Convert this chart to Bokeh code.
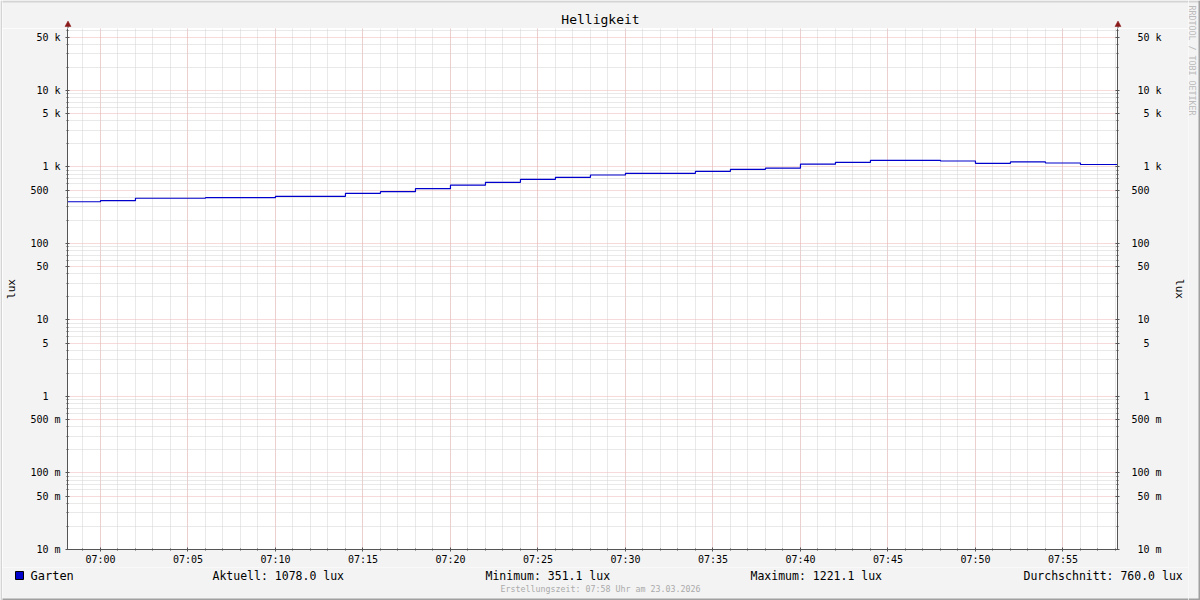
import numpy as np
from bokeh.plotting import figure
from bokeh.layouts import column, row
from bokeh.models import Range1d, FixedTicker, LogAxis, DatetimeTickFormatter, CustomJSTickFormatter
from bokeh.core.properties import value
from bokeh.embed import file_html
from bokeh.resources import INLINE

# ---------------- data ----------------
DATE = "2026-03-23"
step_times = ["06:58", "07:00", "07:02", "07:04", "07:06", "07:08", "07:10", "07:12",
              "07:14", "07:16", "07:18", "07:20", "07:22", "07:24", "07:26", "07:28",
              "07:30", "07:32", "07:34", "07:36", "07:38", "07:40", "07:42", "07:44",
              "07:46", "07:48", "07:50", "07:52", "07:54", "07:56", "07:58:07"]
garten_lux = [351.1, 363, 390, 390, 397, 397, 414, 414, 453, 476,
              520, 578, 631, 690, 733, 786, 827, 827, 878, 933,
              964, 1088, 1152, 1221.1, 1221.1, 1198, 1118, 1163, 1128, 1078,
              1078]
range_start = "06:58:07"
range_end = "07:58:07"
x_major_labels = ["07:00", "07:05", "07:10", "07:15", "07:20", "07:25",
                  "07:30", "07:35", "07:40", "07:45", "07:50", "07:55"]
y_major = [0.01, 0.05, 0.1, 0.5, 1, 5, 10, 50, 100, 500, 1000, 5000, 10000, 50000]
y_minor = [m * d for d in [0.01, 0.1, 1, 10, 100, 1000, 10000]
           for m in [2, 3, 4, 6, 7, 8, 9]]
y_min, y_max = 0.01, 64600

series_name = "Garten"
title_text = "Helligkeit"
unit_label = "lux"
stat_names = ["Aktuell", "Minimum", "Maximum", "Durchschnitt"]
stat_values = ["1078.0 lux", "351.1 lux", "1221.1 lux", "760.0 lux"]
footer_text = "Erstellungszeit: 07:58 Uhr am 23.03.2026"
watermark = "RRDTOOL / TOBI OETIKER"


def t(s):
    if len(s) == 5:
        s = s + ":00"
    return np.datetime64(f"{DATE}T{s}", "ms")


def ms(s):
    return int(t(s).astype(np.int64))


xs = np.array([t(s) for s in step_times])
x0, x1 = ms(range_start), ms(range_end)
x_major = [ms(s) for s in x_major_labels]
x_minor = list(range(ms("06:59"), x1, 60000))

# ---------------- styling / geometry (page pixels) ----------------
FONT = "DejaVu Sans Mono"
BG = "#f3f3f3"
AXIS_C = "#555555"
MAJ_GRID = "#eeb4b4"
MIN_GRID = "#d2d2d2"
ARROW_C = "#8b1a1a"
LINE_C = "#0000cc"
EDGE_LIGHT = "#d4d4d4"
EDGE_DARK = "#a0a0a0"

TOTAL_W, TOTAL_H = 1200, 600
LEFT_W = 2
STRIP_W = 12
COL_X = LEFT_W
MAIN_W = TOTAL_W - STRIP_W - LEFT_W
TOP_H = 28
MAIN_BOTTOM = 567
MAIN_H = MAIN_BOTTOM - TOP_H
BOT_H = TOTAL_H - MAIN_BOTTOM
FRAME_L, FRAME_R, FRAME_B = 67, 1117, 549


def pixfig(ox, oy, w, h):
    """Helper figure whose data coordinates are page pixels."""
    f = figure(width=w, height=h, output_backend="svg", toolbar_location=None,
               x_range=Range1d(ox, ox + w), y_range=Range1d(oy + h, oy),
               min_border=0, min_border_left=0, min_border_right=0,
               min_border_top=0, min_border_bottom=0,
               x_axis_location=None, y_axis_location=None,
               background_fill_color=BG, border_fill_color=BG,
               outline_line_color=None, frame_align=False)
    f.xgrid.visible = False
    f.ygrid.visible = False
    return f


# ---------------- left edge ----------------
ledge = pixfig(0, 0, LEFT_W, TOTAL_H)
ledge.segment(x0=[1], y0=[0], x1=[1], y1=[TOTAL_H], line_color=EDGE_LIGHT, line_width=2)

# ---------------- top strip: title + axis arrows ----------------
top = pixfig(COL_X, 0, MAIN_W, TOP_H)
top.text(x=[600], y=[19], text=[title_text], text_font=value(FONT),
         text_font_size=value("13px"), text_align="center", text_baseline="middle",
         text_color="#000000")
top.segment(x0=[0], y0=[1], x1=[TOTAL_W], y1=[1], line_color=EDGE_LIGHT, line_width=2)
for ax_x in [FRAME_L, FRAME_R]:
    top.segment(x0=[ax_x + 0.5], y0=[25], x1=[ax_x + 0.5], y1=[TOP_H], line_color=AXIS_C, line_width=1)
    top.patch(x=[ax_x + 0.5, ax_x - 2.5, ax_x + 3.5], y=[20.5, 26, 26],
              fill_color=ARROW_C, line_color=ARROW_C, line_width=0.5)

# ---------------- main chart ----------------
p = figure(width=MAIN_W, height=MAIN_H, output_backend="svg", toolbar_location=None,
           x_axis_type="datetime", y_axis_type="log",
           x_range=Range1d(x0, x1), y_range=Range1d(y_min, y_max),
           min_border_left=FRAME_L - COL_X, min_border_right=COL_X + MAIN_W - FRAME_R,
           min_border_top=0, min_border_bottom=MAIN_BOTTOM - FRAME_B,
           background_fill_color="white", border_fill_color=BG,
           outline_line_color=None, frame_align=False)

yticker = FixedTicker(ticks=y_major, minor_ticks=y_minor)
xticker = FixedTicker(ticks=x_major, minor_ticks=x_minor)

yfmt = CustomJSTickFormatter(code="""
const nb = '\\u00a0';
let num, unit;
if (tick >= 999) { num = Math.round(tick/1000); unit = 'k'; }
else if (tick >= 0.999) { num = Math.round(tick); unit = nb; }
else { num = Math.round(tick*1000); unit = 'm'; }
let s = String(num);
while (s.length < 3) s = nb + s;
return s + ' ' + unit;
""")

p.xaxis.ticker = xticker
p.xaxis.formatter = DatetimeTickFormatter(minutes="%H:%M", hourmin="%H:%M", hours="%H:%M",
                                          minsec="%H:%M", seconds="%H:%M", days="%H:%M")
p.yaxis.ticker = yticker
p.yaxis.formatter = yfmt

right = LogAxis(ticker=yticker, formatter=yfmt)
p.add_layout(right, "right")

for ax in [p.xaxis[0], p.yaxis[0], right]:
    ax.axis_line_color = AXIS_C
    ax.axis_line_width = 1
    ax.major_tick_line_color = AXIS_C
    ax.minor_tick_line_color = AXIS_C
    ax.major_label_text_font = FONT
    ax.major_label_text_font_size = "10px"
    ax.major_label_text_color = "#000000"
    ax.major_tick_in = 2
    ax.major_tick_out = 2
    ax.minor_tick_in = 1
    ax.minor_tick_out = 1

for ax, so in [(p.yaxis[0], 9), (right, 8)]:
    ax.axis_label = unit_label
    ax.axis_label_text_font = FONT
    ax.axis_label_text_font_size = "11px"
    ax.axis_label_text_font_style = "normal"
    ax.axis_label_text_color = "#000000"
    ax.axis_label_standoff = so

p.xaxis.major_label_standoff = 2
p.yaxis[0].major_label_standoff = 5
right.major_label_standoff = 12

p.xgrid.ticker = xticker
p.ygrid.ticker = yticker
for g in [p.xgrid[0], p.ygrid[0]]:
    g.grid_line_color = MAJ_GRID
    g.grid_line_dash = "1 1"
    g.grid_line_width = 1
    g.minor_grid_line_color = MIN_GRID
    g.minor_grid_line_dash = "1 1"
    g.minor_grid_line_width = 1

p.step(xs, garten_lux, mode="after", line_color=LINE_C, line_width=1.2)

# ---------------- bottom strip: legend + footer ----------------
bot = pixfig(COL_X, MAIN_BOTTOM, MAIN_W, BOT_H)
bot.quad(left=[15], right=[23], top=[571], bottom=[579],
         fill_color=LINE_C, line_color="#000000", line_width=1)
bot.text(x=[30], y=[575], text=[series_name], text_font=value(FONT),
         text_font_size=value("12px"), text_baseline="middle", text_color="#000000")
bot.text(x=[212, 485, 750, 1023], y=[575] * 4,
         text=[f"{n}: {v}" for n, v in zip(stat_names, stat_values)],
         text_font=value(FONT), text_font_size=value("11.5px"),
         text_baseline="middle", text_color="#000000")
bot.text(x=[600], y=[588], text=[footer_text], text_font=value(FONT),
         text_font_size=value("8.3px"), text_align="center", text_baseline="middle",
         text_color="#aaaaaa")
bot.segment(x0=[0], y0=[TOTAL_H - 1], x1=[TOTAL_W], y1=[TOTAL_H - 1],
            line_color=EDGE_DARK, line_width=2)

# ---------------- right strip: watermark ----------------
sx0 = COL_X + MAIN_W
strip = pixfig(sx0, 0, STRIP_W, TOTAL_H)
strip.text(x=[1191], y=[60], text=[watermark], text_font=value(FONT),
           text_font_size=value("8.3px"), text_align="center", text_baseline="middle",
           text_color="#bbbbbb", angle=-np.pi / 2)
strip.segment(x0=[sx0], y0=[1], x1=[TOTAL_W], y1=[1], line_color=EDGE_LIGHT, line_width=2)
strip.segment(x0=[TOTAL_W - 1], y0=[0], x1=[TOTAL_W - 1], y1=[TOTAL_H],
              line_color=EDGE_DARK, line_width=2)
strip.segment(x0=[sx0], y0=[TOTAL_H - 1], x1=[TOTAL_W], y1=[TOTAL_H - 1],
              line_color=EDGE_DARK, line_width=2)

layout = row(ledge, column(top, p, bot), strip)
open("out.html", "w").write(file_html(layout, INLINE))
